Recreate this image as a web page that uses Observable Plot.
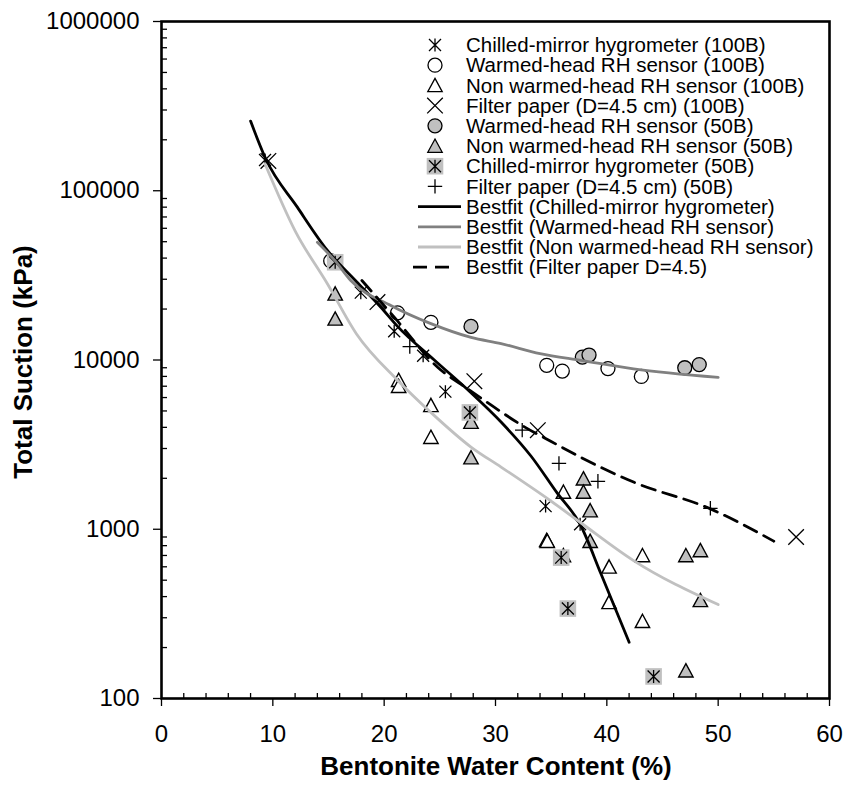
<!DOCTYPE html>
<html><head><meta charset="utf-8">
<script src="https://cdn.jsdelivr.net/npm/d3@7"></script>
<script src="https://cdn.jsdelivr.net/npm/@observablehq/plot@0.6"></script>
<style>
html,body{margin:0;padding:0;background:#fff;}
#chart svg{display:block;font-family:Arial,"Liberation Sans",sans-serif;}
</style></head><body><div id="chart"></div>
<script>
// ---- data: [water content %, total suction kPa] ----
const chilled100B = [[9.3,152000],[17.9,25000],[20.9,14800],[23.5,10600],[25.5,6500],[34.5,1370],[37.6,1070]];
const warmed100B = [[15.2,38500],[21.2,19000],[24.2,16700],[34.6,9300],[36.0,8600],[40.1,8900],[43.1,8000]];
const nonWarmed100B = [[21.3,7600],[21.3,7000],[24.2,5400],[24.2,3500],[34.6,860],[34.65,850],[36.1,1660],[36.1,700],[40.2,600],[40.2,370],[43.2,700],[43.2,286]];
const filter100B = [[9.6,150000],[19.4,22000],[28.1,7500],[33.8,3850],[57.0,900]];
const warmed50B = [[27.8,15800],[37.8,10400],[38.4,10700],[47.0,9000],[48.3,9400]];
const nonWarmed50B = [[15.6,24600],[15.6,17500],[27.8,4300],[27.8,2650],[37.9,1990],[37.9,1660],[38.5,1290],[38.5,850],[47.1,700],[48.4,750],[48.4,380],[47.1,146]];
const chilled50B = [[15.6,37800],[27.7,4900],[35.9,680],[36.5,340],[44.2,135]];
const filter50B = [[22.3,12000],[32.4,3850],[35.7,2450],[39.2,1920],[49.3,1330]];

const fitChilled = [[8,258000],[9.35,155000],[12.2,80000],[14.9,44400],[17.5,29100],[19.7,20500],[21.2,15800],[24.5,10000],[27.8,6400],[30.5,4300],[33.2,2700],[35.5,1650],[37.6,1070],[39.5,540],[42,215]];
const fitWarmed = [[14,49700],[15.6,38500],[17,29500],[20.6,21000],[24.2,16400],[27.8,13600],[30.5,12500],[34,10900],[37.8,9930],[42.4,8870],[50,7900]];
const fitNonWarmed = [[9.3,144000],[12,58000],[14.9,28200],[17.5,14300],[21.2,7600],[24.2,4900],[27.8,3060],[30.5,2330],[34.9,1480],[37.6,1100],[42.4,653],[50,359]];
const fitFilter = [[18,29500],[21,17600],[24.8,9060],[27.5,6760],[30.3,5040],[32.4,4100],[35,3300],[37.9,2610],[42.4,1900],[49.3,1320],[55,850]];

const xMajorTicks = [0,10,20,30,40,50,60];
const yMajorTicks = [100,1000,10000,100000,1000000];
const xTitle = "Bentonite Water Content (%)";
const yTitle = "Total Suction (kPa)";
const legendLabels = [
  "Chilled-mirror hygrometer (100B)",
  "Warmed-head RH sensor (100B)",
  "Non warmed-head RH sensor (100B)",
  "Filter paper (D=4.5 cm) (100B)",
  "Warmed-head RH sensor (50B)",
  "Non warmed-head RH sensor (50B)",
  "Chilled-mirror hygrometer (50B)",
  "Filter paper (D=4.5 cm) (50B)",
  "Bestfit (Chilled-mirror hygrometer)",
  "Bestfit (Warmed-head RH sensor)",
  "Bestfit (Non warmed-head RH sensor)",
  "Bestfit (Filter paper D=4.5)"
];

// ---- derived ----
const rows = a => a.map(([x, y]) => ({x, y}));
const xMinorTicks = d3.range(0, 60, 2).filter(v => v % 10 !== 0);
const yMinorTicks = [];
for (let e = 2; e < 6; e++) for (let m = 2; m <= 9; m++) yMinorTicks.push(m * 10 ** e);

// ---- symbols ----
const symStar = {draw(c){const h=6.5,d=6;c.moveTo(0,-h);c.lineTo(0,h);c.moveTo(-d,-d);c.lineTo(d,d);c.moveTo(-d,d);c.lineTo(d,-d);}};
const symTimes = {draw(c){const d=7.8;c.moveTo(-d,-d);c.lineTo(d,d);c.moveTo(-d,d);c.lineTo(d,-d);}};
const symPlus = {draw(c){const d=7.2;c.moveTo(-d,0);c.lineTo(d,0);c.moveTo(0,-d);c.lineTo(0,d);}};
const symTri = {draw(c){c.moveTo(0,-7);c.lineTo(7.2,6.3);c.lineTo(-7.2,6.3);c.closePath();}};
const symCircle = {draw(c){c.moveTo(7,0);c.arc(0,0,7,0,2*Math.PI);}};
const symSquare = {draw(c){c.rect(-8.3,-8.3,16.6,16.6);}};

const gray = "#c0c0c0";
const lineStyles = [
  {stroke:"#000", dash:null},
  {stroke:"#808080", dash:null},
  {stroke:"#c0c0c0", dash:null},
  {stroke:"#000", dash:"14,8"}
];

const plot = Plot.plot({
  width: 843, height: 787,
  marginLeft: 161, marginRight: 14, marginTop: 21, marginBottom: 89,
  x: {domain: [0, 60]},
  y: {type: "log", domain: [100, 1000000]},
  style: {fontFamily: "Arial, 'Liberation Sans', sans-serif", color: "#000", background: "#fff"},
  marks: [
    Plot.dot(rows(chilled100B), {x:"x", y:"y", symbol: symStar, r: 1, fill: "none", stroke: "#000", strokeWidth: 1.3}),
    Plot.dot(rows(warmed100B), {x:"x", y:"y", symbol: symCircle, r: 1, fill: "#fff", stroke: "#000", strokeWidth: 1.3}),
    Plot.dot(rows(nonWarmed100B), {x:"x", y:"y", symbol: symTri, r: 1, fill: "#fff", stroke: "#000", strokeWidth: 1.4}),
    Plot.dot(rows(filter100B), {x:"x", y:"y", symbol: symTimes, r: 1, fill: "none", stroke: "#000", strokeWidth: 1.3}),
    Plot.dot(rows(warmed50B), {x:"x", y:"y", symbol: symCircle, r: 1, fill: gray, stroke: "#000", strokeWidth: 1.3}),
    Plot.dot(rows(nonWarmed50B), {x:"x", y:"y", symbol: symTri, r: 1, fill: gray, stroke: "#000", strokeWidth: 1.4}),
    Plot.dot(rows(chilled50B), {x:"x", y:"y", symbol: symSquare, r: 1, fill: gray, stroke: "none"}),
    Plot.dot(rows(chilled50B), {x:"x", y:"y", symbol: symStar, r: 1, fill: "none", stroke: "#000", strokeWidth: 1.3}),
    Plot.dot(rows(filter50B), {x:"x", y:"y", symbol: symPlus, r: 1, fill: "none", stroke: "#000", strokeWidth: 1.3}),
    Plot.line(rows(fitChilled), {x:"x", y:"y", stroke: lineStyles[0].stroke, strokeWidth: 2.8, curve: "monotone-x"}),
    Plot.line(rows(fitWarmed), {x:"x", y:"y", stroke: lineStyles[1].stroke, strokeWidth: 2.8, curve: "monotone-x"}),
    Plot.line(rows(fitNonWarmed), {x:"x", y:"y", stroke: lineStyles[2].stroke, strokeWidth: 2.8, curve: "monotone-x"}),
    Plot.line(rows(fitFilter), {x:"x", y:"y", stroke: lineStyles[3].stroke, strokeWidth: 2.8, strokeDasharray: lineStyles[3].dash, curve: "monotone-x"}),
    Plot.axisY({ticks: yMajorTicks, tickSize: 8, tickPadding: 14, tickFormat: d3.format("d"), fontSize: 24, label: null, strokeWidth: 1.3}),
    Plot.axisY({ticks: yMinorTicks, tickSize: -6, tickFormat: () => "", label: null, strokeWidth: 1.3}),
    Plot.axisX({ticks: xMajorTicks, tickSize: 8, tickPadding: 18, fontSize: 24, label: null, strokeWidth: 1.3}),
    Plot.axisX({ticks: xMinorTicks, tickSize: -5, tickFormat: () => "", label: null, strokeWidth: 1.3}),
    Plot.frame({stroke: "#000", strokeWidth: 2.6})
  ]
});

const svg = d3.select(plot);
// axis titles
svg.append("text").attr("x", 496).attr("y", 775).attr("text-anchor", "middle")
  .attr("font-size", 26).attr("font-weight", "bold").attr("fill", "#000").text(xTitle);
svg.append("text").attr("transform", "translate(32,362) rotate(-90)").attr("text-anchor", "middle")
  .attr("font-size", 26).attr("font-weight", "bold").attr("fill", "#000").text(yTitle);

// legend
const legendSyms = [
  [{s: symStar, fill: "none"}],
  [{s: symCircle, fill: "#fff"}],
  [{s: symTri, fill: "#fff"}],
  [{s: symTimes, fill: "none"}],
  [{s: symCircle, fill: gray}],
  [{s: symTri, fill: gray}],
  [{s: symSquare, fill: gray, stroke: "none"}, {s: symStar, fill: "none"}],
  [{s: symPlus, fill: "none"}]
];
const lg = svg.append("g").attr("text-anchor", "start");
legendLabels.forEach((label, i) => {
  const cy = 45 + i * 20.2;
  const g = lg.append("g");
  if (i < 8) {
    legendSyms[i].forEach(m => {
      g.append("path").attr("transform", `translate(435,${cy})`)
        .attr("d", d3.symbol(m.s, 1)())
        .attr("fill", m.fill).attr("stroke", m.stroke || "#000").attr("stroke-width", 1.3);
    });
  } else {
    const ls = lineStyles[i - 8];
    g.append("line").attr("x1", ls.dash ? 413 : 418).attr("x2", ls.dash ? 455 : 461).attr("y1", cy).attr("y2", cy)
      .attr("stroke", ls.stroke).attr("stroke-width", 2.8)
      .attr("stroke-dasharray", ls.dash);
  }
  g.append("text").attr("x", 466).attr("y", cy).attr("dy", "0.35em").attr("text-anchor", "start")
    .attr("font-size", 20.5).attr("fill", "#000").text(label);
});

document.getElementById("chart").appendChild(plot);
</script>
</body></html>
